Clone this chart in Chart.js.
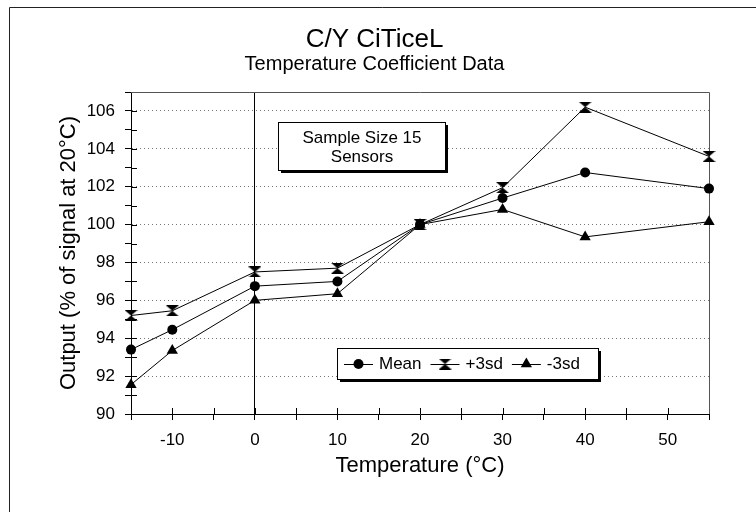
<!DOCTYPE html>
<html>
<head>
<meta charset="utf-8">
<script src="https://cdn.jsdelivr.net/npm/chart.js@4.4.0/dist/chart.umd.min.js"></script>
<style>
  html, body { margin: 0; padding: 0; background: #fff; }
</style>
</head>
<body>
<canvas id="tcChart" width="756" height="512"></canvas>
<script>
// readings off the original sheet
const temps = [-15, -10, 0, 10, 20, 30, 40, 55];
const meanOut = [93.4, 94.45, 96.75, 97.0, 100.0, 101.4, 102.75, 101.9];
const plus3sd = [95.2, 95.45, 97.5, 97.7, 100.0, 101.95, 106.2, 103.6];
const minus3sd = [91.55, 93.35, 96.0, 96.35, 100.0, 100.8, 99.35, 100.15];
const seriesNames = ['Mean', '+3sd', '-3sd'];
const xTickLabels = [-10, 0, 10, 20, 30, 40, 50];
const yTickLabels = [90, 92, 94, 96, 98, 100, 102, 104, 106];
const noteLines = ['Sample Size 15', 'Sensors'];

Chart.defaults.font.family = '"Liberation Sans", Arial, Helvetica, sans-serif';
Chart.defaults.color = '#000';

// +3sd marker: two filled triangles point to point
function makeHourglass() {
  const c = document.createElement('canvas');
  c.width = 13; c.height = 11;
  const g = c.getContext('2d');
  g.fillStyle = '#000';
  g.beginPath();
  g.moveTo(0, 0); g.lineTo(13, 0); g.lineTo(6.5, 5.5); g.closePath();
  g.moveTo(0, 11); g.lineTo(13, 11); g.lineTo(6.5, 5.5); g.closePath();
  g.fill();
  return c;
}
const hourglass = makeHourglass();

function pts(vals) {
  return temps.map((t, i) => ({ x: t, y: vals[i] }));
}

function drawMarker(ctx, style, cx, cy) {
  ctx.fillStyle = '#000';
  if (style === 'circle') {
    ctx.beginPath();
    ctx.arc(cx, cy, 5, 0, Math.PI * 2);
    ctx.fill();
  } else if (style === 'triangle') {
    const r = 6.5;
    ctx.beginPath();
    ctx.moveTo(cx, cy - r);
    ctx.lineTo(cx + r * 0.866, cy + r * 0.5);
    ctx.lineTo(cx - r * 0.866, cy + r * 0.5);
    ctx.closePath();
    ctx.fill();
  } else {
    ctx.drawImage(style, cx - style.width / 2, cy - style.height / 2);
  }
}

function shadowBox(ctx, l, t, w, h) {
  ctx.fillStyle = '#000';
  ctx.fillRect(l + 3, t + 3, w, h);
  ctx.fillStyle = '#fff';
  ctx.fillRect(l, t, w, h);
  ctx.strokeStyle = '#000';
  ctx.lineWidth = 1;
  ctx.strokeRect(l + 0.5, t + 0.5, w, h);
}

const notePos = { x: 2.85, y: 105.4 };   // top-left of the note, data units
const legendPos = { x: 9.9, y: 93.5 };   // top-left of the key, data units

const decor = {
  id: 'decor',
  beforeDatasetsDraw(chart) {
    const { ctx, chartArea: a, scales: { x, y } } = chart;
    ctx.save();
    ctx.strokeStyle = '#000';
    ctx.lineWidth = 1;
    ctx.beginPath();
    // inner half of the tick marks
    x.ticks.forEach(t => {
      const px = Math.round(x.getPixelForValue(t.value)) + 0.5;
      ctx.moveTo(px, a.bottom);
      ctx.lineTo(px, a.bottom - 6);
    });
    y.ticks.forEach(t => {
      const py = Math.round(y.getPixelForValue(t.value)) + 0.5;
      ctx.moveTo(a.left, py);
      ctx.lineTo(a.left + 6, py);
    });
    ctx.stroke();
    ctx.strokeStyle = '#555';
    ctx.beginPath();
    ctx.moveTo(a.left, Math.round(a.top) + 0.5);
    ctx.lineTo(Math.round(a.right) + 0.5, Math.round(a.top) + 0.5);
    ctx.lineTo(Math.round(a.right) + 0.5, a.bottom);
    ctx.stroke();
    ctx.restore();
  },
  afterDraw(chart) {
    const { ctx, scales: { x, y } } = chart;
    ctx.save();

    // outer frame (left and top edges show)
    ctx.strokeStyle = '#222';
    ctx.lineWidth = 1;
    ctx.beginPath();
    ctx.moveTo(9.5, 512);
    ctx.lineTo(9.5, 7.5);
    ctx.lineTo(756, 7.5);
    ctx.stroke();

    // note box
    const nl = Math.round(x.getPixelForValue(notePos.x));
    const nt = Math.round(y.getPixelForValue(notePos.y));
    shadowBox(ctx, nl, nt, 167, 48);
    ctx.fillStyle = '#000';
    ctx.font = '17px "Liberation Sans", Arial, sans-serif';
    ctx.textAlign = 'center';
    ctx.textBaseline = 'middle';
    noteLines.forEach((s, i) => ctx.fillText(s, nl + 84, nt + 16 + i * 19));

    // key
    const ll = Math.round(x.getPixelForValue(legendPos.x));
    const lt = Math.round(y.getPixelForValue(legendPos.y));
    shadowBox(ctx, ll, lt, 261, 31);
    ctx.textAlign = 'left';
    let cx = ll + 7;
    const cy = lt + 16;
    chart.data.datasets.forEach(ds => {
      ctx.strokeStyle = '#000';
      ctx.beginPath();
      ctx.moveTo(cx, cy + 0.5);
      ctx.lineTo(cx + 29, cy + 0.5);
      ctx.stroke();
      drawMarker(ctx, ds.pointStyle, cx + 14.5, cy);
      cx += 35;
      ctx.fillStyle = '#000';
      ctx.fillText(ds.label, cx, cy);
      cx += ctx.measureText(ds.label).width + 9;
    });
    ctx.restore();
  }
};

new Chart(document.getElementById('tcChart'), {
  type: 'line',
  data: {
    datasets: [
      { label: seriesNames[0], data: pts(meanOut), pointStyle: 'circle', pointRadius: 5 },
      { label: seriesNames[1], data: pts(plus3sd), pointStyle: hourglass, pointRadius: 6 },
      { label: seriesNames[2], data: pts(minus3sd), pointStyle: 'triangle', pointRadius: 6.5 }
    ]
  },
  options: {
    responsive: false,
    animation: false,
    layout: { padding: { left: 40, right: 47, top: 0, bottom: 0 } },
    datasets: { line: { clip: false } },
    elements: {
      line: { borderColor: '#000', borderWidth: 1, tension: 0, fill: false },
      point: { backgroundColor: '#000', borderColor: '#000', borderWidth: 0 }
    },
    plugins: {
      legend: { display: false },
      tooltip: { enabled: false },
      title: {
        display: true,
        text: 'C/Y CiTiceL',
        font: { size: 26, weight: 'normal', lineHeight: 1 },
        padding: { top: 27, bottom: 0 }
      },
      subtitle: {
        display: true,
        text: 'Temperature Coefficient Data',
        font: { size: 20, weight: 'normal', lineHeight: 1 },
        padding: { top: 1, bottom: 18 }
      }
    },
    scales: {
      x: {
        type: 'linear',
        min: -15,
        max: 55,
        afterFit: s => { s.height = 98; },
        ticks: {
          stepSize: 5,
          autoSkip: false,
          maxRotation: 0,
          padding: 10,
          font: { size: 17 },
          callback: v => xTickLabels.includes(v) ? String(v) : ''
        },
        grid: {
          color: c => (c.tick && c.tick.value === 0) ? '#000' : 'transparent',
          tickColor: '#000',
          tickLength: 6
        },
        border: { color: '#000', width: 1 },
        title: {
          display: true,
          text: 'Temperature (°C)',
          font: { size: 22 },
          padding: { top: 0, bottom: 33 }
        }
      },
      y: {
        type: 'linear',
        min: 90,
        max: 107,
        afterFit: s => { s.width = 91; },
        ticks: {
          stepSize: 1,
          autoSkip: false,
          padding: 10,
          font: { size: 17 },
          callback: v => yTickLabels.includes(v) ? String(v) : ''
        },
        grid: {
          color: c => (c.tick && yTickLabels.includes(c.tick.value) && c.tick.value !== 90) ? '#777' : 'transparent',
          tickColor: '#000',
          tickLength: 6
        },
        border: { color: '#000', width: 1, dash: [1, 3] },
        title: {
          display: true,
          text: 'Output (% of signal at 20°C)',
          font: { size: 22 },
          padding: { top: 16, bottom: 0 }
        }
      }
    }
  },
  plugins: [decor]
});
</script>
</body>
</html>
